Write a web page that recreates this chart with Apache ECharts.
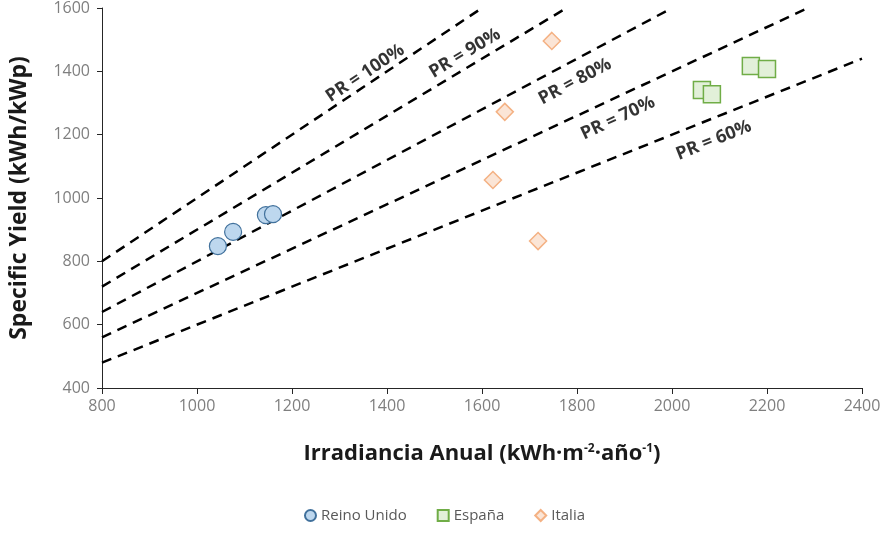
<!DOCTYPE html>
<html>
<head>
<meta charset="utf-8">
<script src="https://cdn.jsdelivr.net/npm/echarts@6/dist/echarts.min.js"></script>
<style>
  html, body { margin: 0; padding: 0; background: #fff; }
  #chart { width: 889px; height: 533px; }
</style>
</head>
<body>
<div id="chart"></div>
<script>
// datos
var reinoUnido = [[1044, 848], [1076, 893], [1145, 946], [1160, 949]];
var espana = [[2063, 1341], [2084, 1328], [2166, 1417], [2200, 1407]];
var italia = [[1747, 1496], [1648, 1272], [1623, 1057], [1718, 864]];

// lineas de PR (extremos)
var prNames = ['PR = 100%', 'PR = 90%', 'PR = 80%', 'PR = 70%', 'PR = 60%'];
var prLines = [
  [[800, 800], [1600, 1600]],
  [[800, 720], [1778, 1600]],
  [[800, 640], [2000, 1600]],
  [[800, 560], [2286, 1600]],
  [[800, 480], [2400, 1440]]
];
// posicion y giro de las etiquetas
var prLabelPos = [[1354, 1394], [1564, 1457], [1796, 1368], [1886, 1252], [2088, 1182]];
var prLabelRot = [33.7, 31, 28, 25, 21.8];

var font = "'Open Sans', 'Liberation Sans', sans-serif";

var series = [];
for (var i = 0; i < prLines.length; i++) {
  series.push({
    name: prNames[i],
    type: 'line',
    data: prLines[i],
    symbol: 'none',
    silent: true,
    z: 1,
    lineStyle: { color: '#000', width: 2.5, type: [10, 7] }
  });
}
// etiquetas
series.push({
  name: 'etiquetas',
  type: 'scatter',
  symbolSize: 0,
  silent: true,
  data: prLabelPos.map(function (p, i) {
    return {
      value: p,
      label: {
        show: true,
        position: 'inside',
        formatter: prNames[i],
        rotate: prLabelRot[i],
        color: '#000',
        fontWeight: 'bold',
        fontSize: 18,
        fontFamily: font
      }
    };
  })
});
series.push({
  name: 'Reino Unido',
  type: 'scatter',
  data: reinoUnido,
  symbol: 'circle',
  symbolSize: 17,
  z: 5,
  itemStyle: { color: '#bdd7ee', borderColor: '#41719c', borderWidth: 1.2, opacity: 1 }
});
series.push({
  name: 'España',
  type: 'scatter',
  data: espana,
  symbol: 'rect',
  symbolSize: 17,
  z: 5,
  itemStyle: { color: '#e2f0d9', borderColor: '#70ad47', borderWidth: 1.5, opacity: 1 }
});
series.push({
  name: 'Italia',
  type: 'scatter',
  data: italia,
  symbol: 'diamond',
  symbolSize: [17, 17],
  z: 5,
  itemStyle: { color: '#fbe5d6', borderColor: '#f4b183', borderWidth: 1.5, opacity: 1 }
});

function plain(v) { return String(v); }

var option = {
  animation: false,
  backgroundColor: '#fff',
  grid: { left: 102, right: 27, top: 8, bottom: 145 },
  legend: {
    data: ['Reino Unido', 'España', 'Italia'],
    bottom: 5,
    left: 'center',
    itemWidth: 11,
    itemHeight: 11,
    itemGap: 30,
    textStyle: { color: '#595959', fontSize: 15, fontFamily: font }
  },
  xAxis: {
    type: 'value',
    min: 800,
    max: 2400,
    interval: 200,
    name: 'Irradiancia Anual (kWh·m{sup|-2}·año{sup|-1})',
    nameLocation: 'middle',
    nameGap: 55,
    nameTextStyle: {
      color: '#1a1a1a', fontSize: 22, fontWeight: 'bold', fontFamily: font,
      rich: { sup: { fontSize: 12, fontWeight: 'bold', color: '#1a1a1a', verticalAlign: 'top', padding: [0, 0, 10, 0] } }
    },
    axisLine: { lineStyle: { color: '#262626', width: 1 } },
    axisTick: { length: 6, lineStyle: { color: '#262626' } },
    axisLabel: { color: '#7f7f7f', fontSize: 16, margin: 10, fontFamily: font, formatter: plain },
    splitLine: { show: false }
  },
  yAxis: {
    type: 'value',
    min: 400,
    max: 1600,
    interval: 200,
    name: 'Specific Yield (kWh/kWp)',
    nameLocation: 'middle',
    nameGap: 71,
    nameTextStyle: { color: '#1a1a1a', fontSize: 23, fontWeight: 'bold', fontFamily: font },
    axisLine: { show: true, lineStyle: { color: '#262626', width: 1 } },
    axisTick: { show: true, length: 5, lineStyle: { color: '#262626' } },
    axisLabel: { color: '#7f7f7f', fontSize: 16, margin: 12, fontFamily: font, formatter: plain },
    splitLine: { show: false }
  },
  series: series
};

var myChart = echarts.init(document.getElementById('chart'));
myChart.setOption(option);
</script>
</body>
</html>
